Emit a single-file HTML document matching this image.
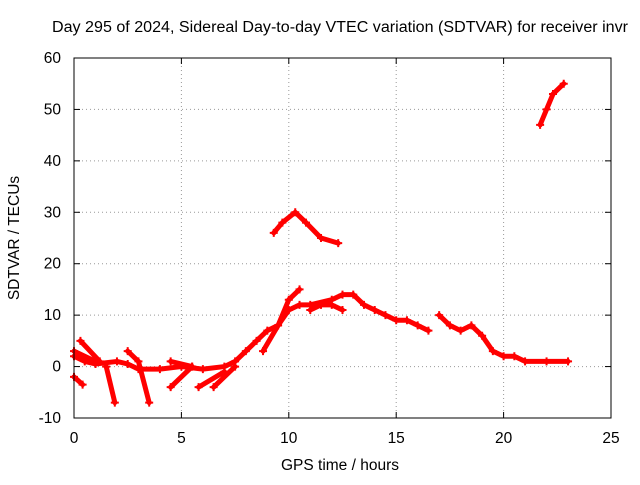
<!DOCTYPE html>
<html><head><meta charset="utf-8"><style>
body{margin:0;background:#fff}
svg text{font-family:"Liberation Sans",sans-serif;font-size:15.5px;fill:#000}
</style></head><body>
<svg id="chart" width="640" height="480" xmlns="http://www.w3.org/2000/svg">
<rect width="640" height="480" fill="#fff"/>
<text x="52" y="32" textLength="576" lengthAdjust="spacingAndGlyphs">Day 295 of 2024, Sidereal Day-to-day VTEC variation (SDTVAR) for receiver invr</text>
<g id="grid"></g>
<g id="ticks"></g>
<g id="series"></g>
<rect x="74" y="58" width="537" height="360" fill="none" stroke="#000" stroke-width="1"/>
<text x="340" y="470" text-anchor="middle">GPS time / hours</text>
<text transform="translate(19,238) rotate(-90)" text-anchor="middle">SDTVAR / TECUs</text>
</svg>
<script>
const xTicks=[0,5,10,15,20,25];
const yTicks=[-10,0,10,20,30,40,50,60];
const trackMain=[[0,2],[0.5,1],[1,0.5],[2,1],[2.5,0.5],[3,-0.5],[4,-0.5],[5,0],[6,-0.5],[7,0],[7.5,1],[8,3],[8.5,5],[9,7],[9.5,8],[10,11],[10.5,12],[11,12],[12,13],[12.5,14],[13,14],[13.5,12],[14,11],[14.5,10],[15,9],[15.5,9],[16,8],[16.5,7]];
const trackRise=[[8.8,3],[9.5,8],[10,13],[10.5,15]];
const trackMid=[[11,11],[11.5,12],[12,12],[12.5,11]];
const trackLate=[[17,10],[17.5,8],[18,7],[18.5,8],[19,6],[19.5,3],[20,2],[20.5,2],[21,1],[22,1],[23,1]];
const trackHigh=[[9.3,26],[9.7,28],[10.3,30],[10.8,28],[11.5,25],[12.3,24]];
const trackTop=[[21.7,47],[22,50],[22.3,53],[22.8,55]];
const trackA=[[0,-2],[0.4,-3.5]];
const trackB=[[1.5,0],[1.9,-7]];
const trackC=[[2.5,3],[3,1],[3.5,-7]];
const trackD=[[0.3,5],[1.2,1]];
const trackE=[[0,3],[1,1]];
const trackF=[[4.5,-4],[5.5,0]];
const trackG=[[5.8,-4],[7,-1]];
const trackH=[[6.5,-4],[7.5,0]];
const trackI=[[4.5,1],[5.5,0]];
const tracks=[trackMain,trackRise,trackMid,trackLate,trackHigh,trackTop,trackA,trackB,trackC,trackD,trackE,trackF,trackG,trackH,trackI];
const NS="http://www.w3.org/2000/svg";
const X0=74,X1=611,Y0=418,Y1=58;
function sx(v){return X0+(v-0)/(25-0)*(X1-X0);}
function sy(v){return Y0-(v+10)/(60+10)*(Y0-Y1);}
function mk(t,a,p){const e=document.createElementNS(NS,t);for(const k in a)e.setAttribute(k,a[k]);p.appendChild(e);return e;}
const grid=document.getElementById('grid'),ticks=document.getElementById('ticks'),series=document.getElementById('series');
xTicks.forEach(v=>{const x=sx(v);
 if(v>0&&v<25){const l=mk('line',{x1:x,x2:x,y1:Y1,y2:Y0,stroke:'#999','stroke-dasharray':'1,3'},grid);}
 mk('line',{x1:x,x2:x,y1:Y0,y2:Y0-6,stroke:'#000'},ticks);mk('line',{x1:x,x2:x,y1:Y1,y2:Y1+6,stroke:'#000'},ticks);
 const t=mk('text',{x:x,y:443,'text-anchor':'middle'},ticks);t.textContent=v;
 });
yTicks.forEach(v=>{const y=sy(v);
 if(v>-10&&v<60){const l=mk('line',{x1:X0,x2:X1,y1:y,y2:y,stroke:'#999','stroke-dasharray':'1,3'},grid);}
 mk('line',{x1:X0,x2:X0+6,y1:y,y2:y,stroke:'#000'},ticks);mk('line',{x1:X1,x2:X1-6,y1:y,y2:y,stroke:'#000'},ticks);
 const t=mk('text',{x:61,y:y+5,'text-anchor':'end'},ticks);t.textContent=v;
 });
tracks.forEach(tr=>{
 const p=mk('polyline',{points:tr.map(d=>sx(d[0])+','+sy(d[1])).join(' '),fill:'none',stroke:'#f00','stroke-width':5,'stroke-linejoin':'round','stroke-linecap':'round'},series);
 
 
 tr.forEach(d=>{const x=sx(d[0]),y=sy(d[1]);
  const m=mk('path',{d:`M${x-4},${y}H${x+4}M${x},${y-4}V${y+4}`,stroke:'#f00','stroke-width':2},series);
  
  });
});
</script>
</body></html>
